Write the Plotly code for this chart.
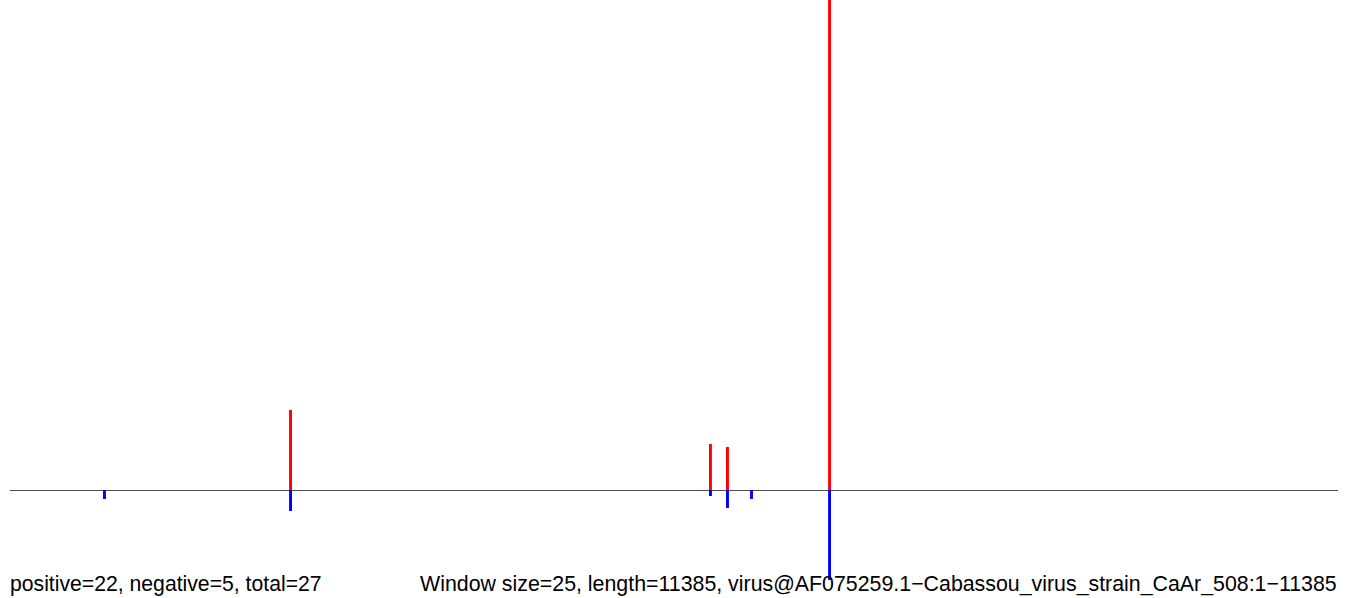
import plotly.graph_objects as go

# Sequence length and sliding-window size
seq_length = 11385
window_size = 25

# Window positions (nt) and their scores above / below the axis
pos_positions = [2405, 6005, 6151, 7026]
pos_scores = [8.0, 4.6, 4.3, 49.0]
neg_positions = [810, 2405, 6005, 6151, 6357, 7026]
neg_scores = [0.9, 2.1, 0.6, 1.8, 0.9, 9.0]

summary_left = "positive=22, negative=5, total=27"
summary_right = ("Window size=25, length=11385, "
                 "virus@AF075259.1\u2212Cabassou_virus_strain_CaAr_508:1\u221211385")

W, H = 1350, 598
x_px0, x_px1 = 10, 1338          # axis extent in pixels
nt_per_px = seq_length / (x_px1 - x_px0)
x_range = [-x_px0 * nt_per_px, seq_length + (W - x_px1) * nt_per_px]
y_top = 49.0
y_range = [y_top - y_top * H / 490, y_top]
half_px = (y_range[1] - y_range[0]) / H / 2

fig = go.Figure()
fig.add_trace(go.Bar(
    x=pos_positions, y=pos_scores, width=window_size,
    marker=dict(color="#FF0000", line=dict(width=0)), hoverinfo="x+y",
))
fig.add_trace(go.Bar(
    x=neg_positions, y=[-v for v in neg_scores], width=window_size,
    marker=dict(color="#0000FF", line=dict(width=0)), hoverinfo="x+y",
))

# Horizontal baseline along the sequence (offset half a pixel so it renders crisp)
fig.add_shape(type="line", xref="x", yref="y", x0=0, x1=seq_length,
              y0=-half_px, y1=-half_px,
              line=dict(color="#4d4d4d", width=1), layer="below")

font_left = dict(family="Liberation Sans, Arial, sans-serif", size=21.2, color="black")
font_right = dict(family="Liberation Sans, Arial, sans-serif", size=21.35, color="black")
fig.add_annotation(text=summary_left, xref="x", yref="paper", x=0, y=1 - 583.5 / H,
                   xanchor="left", yanchor="middle", showarrow=False, font=font_left,
                   borderpad=0, xshift=-1)
fig.add_annotation(text=summary_right, xref="x", yref="paper", x=seq_length, y=1 - 583.5 / H,
                   xanchor="right", yanchor="middle", showarrow=False, font=font_right,
                   borderpad=0)

fig.update_layout(
    width=W, height=H, margin=dict(l=0, r=0, t=0, b=0),
    paper_bgcolor="white", plot_bgcolor="white",
    barmode="relative", showlegend=False,
    xaxis=dict(range=x_range, visible=False, fixedrange=True),
    yaxis=dict(range=y_range, visible=False, fixedrange=True),
)

fig.write_html("out.html")
